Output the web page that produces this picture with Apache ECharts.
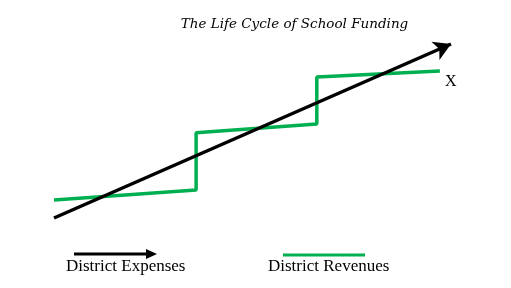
<!DOCTYPE html>
<html>
<head>
<meta charset="utf-8">
<script src="https://cdn.jsdelivr.net/npm/echarts@6/dist/echarts.min.js"></script>
<style>html,body{margin:0;padding:0;background:#fff}#c{width:511px;height:288px}</style>
</head>
<body>
<div id="c"></div>
<script>
// Abstract time units (x) and money level (y)
const expensesLine = [[0, 0], [10, 10]];
const revenueSteps = [[0, 1.03], [3.58, 1.61], [3.58, 4.9], [6.62, 5.4], [6.62, 8.1], [9.72, 8.45]];
const seriesNames = ['District Expenses', 'District Revenues'];
const titleText = 'The Life Cycle of School Funding';
const axisMarker = 'X';

const chart = echarts.init(document.getElementById('c'), null, {renderer: 'canvas'});
const serif = '"Liberation Serif", "Times New Roman", serif';
chart.setOption({
  animation: false,
  backgroundColor: '#ffffff',
  title: {
    text: titleText, left: 289.5, top: 12, textAlign: 'center',
    textStyle: {fontFamily: '"DejaVu Serif", serif', fontStyle: 'italic', fontWeight: 'normal', fontSize: 13.5, color: '#000'}
  },
  grid: {left: 54, right: 60, top: 44, bottom: 70},
  xAxis: {type: 'value', min: 0, max: 10, show: false},
  yAxis: {type: 'value', min: 0, max: 10, show: false},
  series: [
    {
      name: seriesNames[0], type: 'line', data: [], silent: true,
      markLine: {
        silent: true, symbol: ['none', 'arrow'], symbolSize: [15, 17],
        label: {show: false},
        lineStyle: {color: '#000', width: 3.5, type: 'solid'},
        data: [[{coord: expensesLine[0]}, {coord: expensesLine[1]}]]
      }
    },
    {
      name: seriesNames[1], type: 'line', data: revenueSteps, showSymbol: false,
      lineStyle: {color: '#00b050', width: 3.5}, itemStyle: {color: '#00b050'}
    }
  ],
  graphic: [
    {type: 'text', left: 445, top: 74, style: {text: axisMarker, font: '16px ' + serif, fill: '#000'}},
    {type: 'line', shape: {x1: 74, y1: 254, x2: 148, y2: 254}, style: {stroke: '#000', lineWidth: 3}},
    {type: 'polygon', shape: {points: [[146, 249], [157, 254], [146, 259]]}, style: {fill: '#000'}},
    {type: 'text', left: 66, top: 258, style: {text: seriesNames[0], font: '17px ' + serif, fill: '#000'}},
    {type: 'line', shape: {x1: 283, y1: 255, x2: 365, y2: 255}, style: {stroke: '#00b050', lineWidth: 3}},
    {type: 'text', left: 268, top: 258, style: {text: seriesNames[1], font: '17px ' + serif, fill: '#000'}}
  ]
});
</script>
</body>
</html>
